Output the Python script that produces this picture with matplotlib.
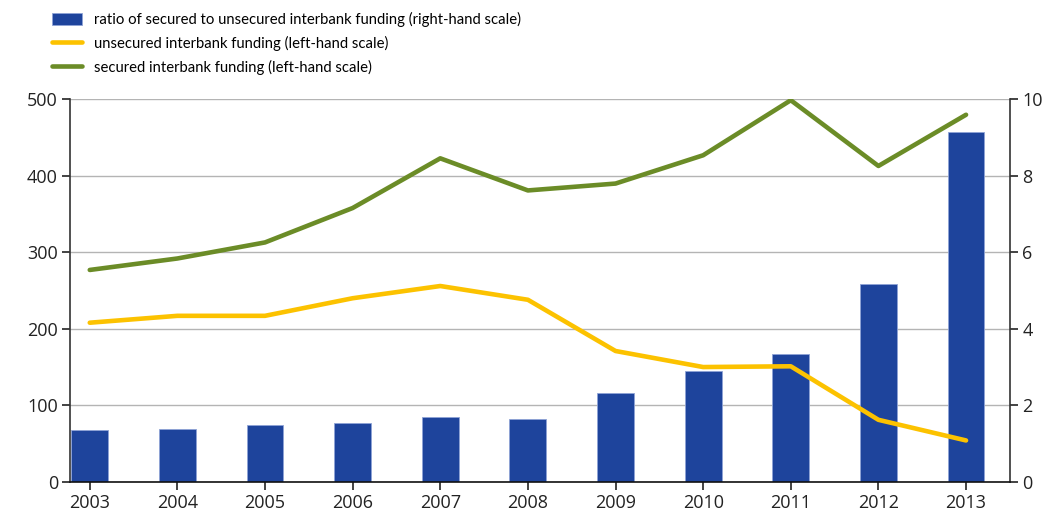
import matplotlib.pyplot as plt
import numpy as np

plt.rcParams['font.family'] = ['Open Sans', 'DejaVu Sans']

years = ['2003', '2004', '2005', '2006', '2007', '2008', '2009', '2010', '2011', '2012', '2013']
ratio = [1.36, 1.38, 1.49, 1.54, 1.70, 1.64, 2.32, 2.90, 3.34, 5.17, 9.16]
unsecured = [208, 217, 217, 240, 256, 238, 171, 150, 151, 81, 54]
secured = [277, 292, 313, 358, 423, 381, 390, 427, 499, 413, 480]

blue = '#1e449c'
yellow = '#fcc200'
green = '#6b8c27'

fig = plt.figure(figsize=(10.63, 5.18), dpi=100)
ax = fig.add_axes([0.0663, 0.070, 0.8837, 0.738])
ax2 = ax.twinx()

x = np.arange(len(years))

# bars on the right axis, grid behind them
ax2.bar(x, ratio, width=0.42, color=blue, edgecolor='#8fa3d6', linewidth=0.6, zorder=3,
        label='ratio of secured to unsecured interbank funding (right-hand scale)')
ax2.set_ylim(0, 10)
ax2.set_yticks([0, 2, 4, 6, 8, 10])
ax2.yaxis.grid(True, color='#b4b4b4', linewidth=1.0, zorder=0)
ax2.set_axisbelow(True)

# lines on the left axis, on top
ax.set_zorder(ax2.get_zorder() + 1)
ax.patch.set_visible(False)
ax.plot(x, unsecured, color=yellow, linewidth=3.3, solid_capstyle='round', solid_joinstyle='round',
        label='unsecured interbank funding (left-hand scale)')
ax.plot(x, secured, color=green, linewidth=3.3, solid_capstyle='round', solid_joinstyle='round',
        label='secured interbank funding (left-hand scale)')
ax.set_ylim(0, 500)
ax.set_yticks([0, 100, 200, 300, 400, 500])
ax.set_xlim(-0.22, 10.5)
ax.set_xticks(x)
ax.set_xticklabels(years)

for a in (ax, ax2):
    a.spines['top'].set_visible(False)
    a.tick_params(labelsize=13, colors='#222222', length=6, width=1.2, pad=3)
ax.spines['left'].set_color('#333333')
ax.spines['left'].set_linewidth(1.2)
ax2.spines['right'].set_color('#333333')
ax2.spines['right'].set_linewidth(1.2)
ax.spines['bottom'].set_color('#111111')
ax.spines['bottom'].set_linewidth(1.2)
ax2.spines['bottom'].set_visible(False)
ax2.spines['left'].set_visible(False)
ax.spines['right'].set_visible(False)

h1, l1 = ax2.get_legend_handles_labels()
h2, l2 = ax.get_legend_handles_labels()
fig.legend(h1 + h2, l1 + l2, loc='upper left', bbox_to_anchor=(52 / 1063, 1 - 12 / 518), frameon=False,
           prop={'family': ['Lato', 'DejaVu Sans'], 'size': 10.7},
           handlelength=2.0, handleheight=0.95, labelspacing=0.6, handletextpad=0.85,
           borderaxespad=0, borderpad=0)

plt.savefig('out.png', dpi=100)
